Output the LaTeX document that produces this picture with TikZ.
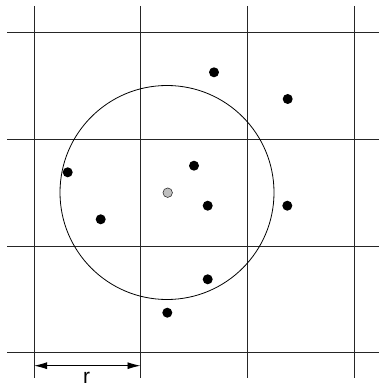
\documentclass[tikz,border=0pt]{standalone}
\usepackage{fontspec}
\setmainfont{Liberation Sans}
\usetikzlibrary{arrows.meta}
\begin{document}
\begin{tikzpicture}[x=1pt,y=-1pt,
  gridline/.style={line width=0.9pt,black!85},
  pt/.style={circle,fill=black,inner sep=0pt,minimum size=10pt},
  qpt/.style={circle,draw=black!80,fill=black!25,line width=0.6pt,inner sep=0pt,minimum size=9.5pt},
  ring/.style={line width=0.8pt}]
\useasboundingbox (0,0) rectangle (379,385);
% grid
\foreach \x in {34,140.5,247.7,354.3} \draw[gridline] (\x,6) -- (\x,378);
\foreach \y in {32.3,139,246,352.7} \draw[gridline] (7,\y) -- (379,\y);
% circle
\coordinate (c) at (167,192.5);
\draw[ring] (c) circle[radius=107];
% points
\node[pt] (p1) at (214,72.3) {};
\node[pt] (p2) at (287.7,99) {};
\node[pt] (p3) at (67.7,172.3) {};
\node[pt] (p4) at (194,165.7) {};
\node[pt] (p5) at (207.7,205.7) {};
\node[pt] (p6) at (287.3,205.7) {};
\node[pt] (p7) at (100.7,219.3) {};
\node[pt] (p8) at (207.7,279.3) {};
\node[pt] (p9) at (167.3,312.7) {};
\node[qpt] (q) at (167.7,192.7) {};
% r arrow
\coordinate (ra) at (34,365.7);
\coordinate (rb) at (140.5,365.7);
\draw[line width=0.9pt,{Latex[length=13pt,width=7pt]}-{Latex[length=13pt,width=7pt]}] (ra) -- (rb);
\node[anchor=base,font=\fontsize{21}{24}\selectfont,inner sep=0pt] (rl) at (86.5,383) {r};
\end{tikzpicture}
\end{document}
